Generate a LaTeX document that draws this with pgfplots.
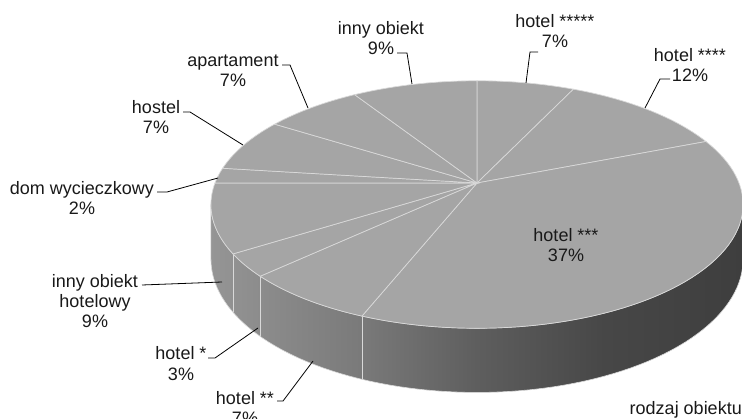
\documentclass[border=0pt]{standalone}
\usepackage{pgfplots}
\pgfplotsset{compat=1.18}
\usepackage{pgfplotstable}
\usepackage{fontspec}
\setmainfont{Liberation Sans}
\definecolor{topgray}{HTML}{A5A5A5}
\definecolor{sepgray}{HTML}{D9D9D9}
\definecolor{sa}{HTML}{959595}
\definecolor{sb}{HTML}{7A7A7A}
\definecolor{sc}{HTML}{5E5E5E}
\definecolor{sd}{HTML}{474747}
\definecolor{se}{HTML}{3E3E3E}
\pgfdeclarehorizontalshading{sideshade}{100bp}{color(0bp)=(sa); color(25bp)=(sa); color(39bp)=(sb); color(50bp)=(sc); color(62bp)=(sd); color(75bp)=(se); color(100bp)=(se)}
% shares in clockwise order from 12 o'clock:
% hotel *****, hotel ****, hotel ***, hotel **, hotel *, inny obiekt hotelowy,
% dom wycieczkowy, hostel, apartament, inny obiekt
\pgfplotstableread{
value
7
12
37
7
3
9
2
7
7
9
}\piedata
\begin{document}
\begin{tikzpicture}
\def\cum{0}%
\def\sidelist{}%
\pgfplotsforeachungrouped \i in {0,...,9}{%
  \pgfplotstablegetelem{\i}{value}\of\piedata
  \pgfmathsetmacro\start{90-3.6*\cum}%
  \pgfmathsetmacro\cum{\cum+\pgfplotsretval}%
  \pgfmathsetmacro\stop{90-3.6*\cum}%
  \expandafter\xdef\csname sa\i\endcsname{\start}%
  \expandafter\xdef\csname sb\i\endcsname{\stop}%
  \pgfmathparse{and(\stop<-10,\stop>-170)}%
  \ifdim\pgfmathresult pt>0.5pt
    \ifx\sidelist\empty \xdef\sidelist{\i}\else \xdef\sidelist{\sidelist,\i}\fi
  \fi
}%
\tikzset{lab/.style={anchor=base, inner sep=0pt, font=\fontsize{18}{20}\selectfont, text=black!90},
  lead/.style={black, line width=0.8pt}}
\begin{axis}[
  width=742pt, height=419pt, scale only axis,
  xmin=0, xmax=742, ymin=0, ymax=419, y dir=reverse,
  hide axis, clip=false,
  declare function={
    px(\t)=477+262*cos(\t)/(1+0.174*sin(\t));
    py(\t)=183-120*sin(\t)/(1+0.174*sin(\t));
    pyb(\t)=py(\t)+53/(1+0.174*sin(\t));
  }]
% front side
\addplot[shading=sideshade, draw=sepgray, line width=0.6pt, domain=0:2, samples=161, variable=\u]
  ({ifthenelse(\u<=1, px(-170+160*\u), px(-10-160*(\u-1)))},
   {ifthenelse(\u<=1, py(-170+160*\u), pyb(-10-160*(\u-1)))}) -- cycle;
% side separators
\edef\tmp{\noexpand\pgfplotsinvokeforeach{\sidelist}}
\tmp{
  \addplot[sepgray, line width=0.8pt, domain=0:1, samples=2, variable=\u]
   ({px(\csname sb#1\endcsname)},
    {py(\csname sb#1\endcsname)+\u*(pyb(\csname sb#1\endcsname)-py(\csname sb#1\endcsname))});
}
% top slices
\pgfplotsinvokeforeach{0,...,9}{
  \addplot[fill=topgray, draw=sepgray, line width=0.7pt,
    domain=\csname sb#1\endcsname:\csname sa#1\endcsname, samples=60, variable=\t]
    ({px(\t)},{py(\t)}) -- (axis cs:477,183) -- cycle;
}
% labels
\node[lab] at (axis cs:381,35) {inny obiekt};
\node[lab] at (axis cs:381,55) {9\%};
\draw[lead] (axis cs:397,53) -- (axis cs:407,53) -- (axis cs:412,84);
\node[lab] at (axis cs:555,28) {hotel *****};
\node[lab] at (axis cs:555,48) {7\%};
\draw[lead] (axis cs:538,52) -- (axis cs:530,52) -- (axis cs:526,83);
\node[lab] at (axis cs:690,62) {hotel ****};
\node[lab] at (axis cs:690,82) {12\%};
\draw[lead] (axis cs:670,79) -- (axis cs:660,79) -- (axis cs:645,108);
\node[lab] at (axis cs:566,242) {hotel ***};
\node[lab] at (axis cs:566,262) {37\%};
\node[lab] at (axis cs:245,405) {hotel **};
\node[lab] at (axis cs:245,425) {7\%};
\draw[lead] (axis cs:277,401) -- (axis cs:283,401) -- (axis cs:313,361);
\node[lab] at (axis cs:181,360) {hotel *};
\node[lab] at (axis cs:181,381) {3\%};
\draw[lead] (axis cs:208,358) -- (axis cs:215,358) -- (axis cs:258,328);
\node[lab] at (axis cs:95,288) {inny obiekt};
\node[lab] at (axis cs:95,308) {hotelowy};
\node[lab] at (axis cs:95,328) {9\%};
\draw[lead] (axis cs:142,285) -- (axis cs:222,282);
\node[lab] at (axis cs:82,195) {dom wycieczkowy};
\node[lab] at (axis cs:82,215) {2\%};
\draw[lead] (axis cs:157,192) -- (axis cs:167,192) -- (axis cs:218,178);
\node[lab] at (axis cs:156,114) {hostel};
\node[lab] at (axis cs:156,134) {7\%};
\draw[lead] (axis cs:183,112) -- (axis cs:190,112) -- (axis cs:243,145);
\node[lab] at (axis cs:233,67) {apartament};
\node[lab] at (axis cs:233,87) {7\%};
\draw[lead] (axis cs:282,65) -- (axis cs:290,65) -- (axis cs:308,108);
\node[lab, anchor=base east] at (axis cs:742,415) {rodzaj obiektu};
\end{axis}
\pgfresetboundingbox
\useasboundingbox (current axis.south west) rectangle (current axis.north east);
\end{tikzpicture}
\end{document}
